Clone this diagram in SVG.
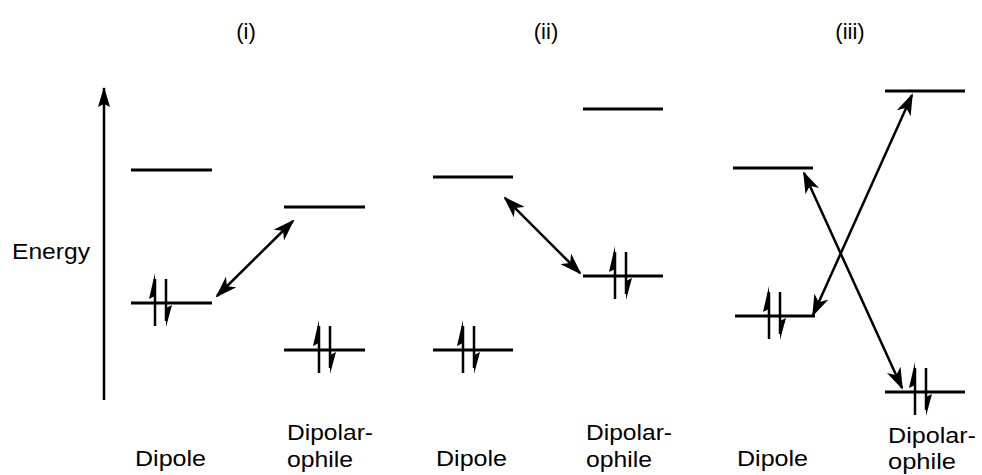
<svg xmlns="http://www.w3.org/2000/svg" width="982" height="475" viewBox="0 0 982 475">
<style>
  text{font-family:"Liberation Sans",Arial,Helvetica,sans-serif;fill:#000}
  .lbl{font-size:22px}
  .hdr{font-size:22px;text-anchor:middle}
  .lvl{stroke:#000;stroke-width:3;fill:none}
  .conn{stroke:#000;stroke-width:2.5;fill:none;marker-start:url(#ah);marker-end:url(#ah)}
  .el{stroke:#000;stroke-width:2.5;fill:none}
</style>
<defs>
  <marker id="ah" viewBox="0 0 22 15" refX="20" refY="7.5" markerWidth="22" markerHeight="15" markerUnits="userSpaceOnUse" orient="auto-start-reverse">
    <path d="M0,0 L22,7.5 L0,15 L6,7.5 z" fill="#000"/>
  </marker>
  <marker id="axh" viewBox="0 0 20 12" refX="19" refY="6" markerWidth="20" markerHeight="12" markerUnits="userSpaceOnUse" orient="auto">
    <path d="M0,0 L20,6 L0,12 L3,6 z" fill="#000"/>
  </marker>
  <g id="pair">
    <line class="el" x1="0" y1="-24" x2="0" y2="23"/>
    <polygon points="0,-30 -6,-4 0,-7" fill="#000"/>
    <line class="el" x1="11" y1="-24" x2="11" y2="18"/>
    <polygon points="11,24 17,2 11,5" fill="#000"/>
  </g>
</defs>
<rect width="982" height="475" fill="#fff"/>

<g id="axis">
  <line x1="104" y1="400" x2="104" y2="88" stroke="#000" stroke-width="2.5" marker-end="url(#axh)"/>
  <text class="lbl" x="90" y="259" text-anchor="end" textLength="78" lengthAdjust="spacingAndGlyphs">Energy</text>
</g>

<g id="headers">
  <text class="hdr" x="246" y="39">(i)</text>
  <text class="hdr" x="546" y="39">(ii)</text>
  <text class="hdr" x="850" y="39">(iii)</text>
</g>

<!-- (i) -->
<g id="i-dipole">
  <line class="lvl" x1="131" y1="170" x2="212" y2="170"/>
  <line class="lvl" x1="131" y1="303" x2="212" y2="303"/>
  <use href="#pair" x="155" y="303"/>
  <text class="lbl" x="135" y="466" textLength="71" lengthAdjust="spacingAndGlyphs">Dipole</text>
</g>
<g id="i-dipolarophile">
  <line class="lvl" x1="284" y1="207" x2="365" y2="207"/>
  <line class="lvl" x1="284" y1="350" x2="365" y2="350"/>
  <use href="#pair" x="319" y="350"/>
  <text class="lbl" x="287" y="440" textLength="86" lengthAdjust="spacingAndGlyphs">Dipolar-</text>
  <text class="lbl" x="287" y="467" textLength="66" lengthAdjust="spacingAndGlyphs">ophile</text>
</g>

<!-- (ii) -->
<g id="ii-dipole">
  <line class="lvl" x1="433" y1="177" x2="513" y2="177"/>
  <line class="lvl" x1="433" y1="350" x2="513" y2="350"/>
  <use href="#pair" x="463" y="350"/>
  <text class="lbl" x="436" y="466" textLength="71" lengthAdjust="spacingAndGlyphs">Dipole</text>
</g>
<g id="ii-dipolarophile">
  <line class="lvl" x1="583" y1="109" x2="663" y2="109"/>
  <line class="lvl" x1="583" y1="276" x2="663" y2="276"/>
  <use href="#pair" x="615" y="276"/>
  <text class="lbl" x="586" y="440" textLength="86" lengthAdjust="spacingAndGlyphs">Dipolar-</text>
  <text class="lbl" x="586" y="467" textLength="66" lengthAdjust="spacingAndGlyphs">ophile</text>
</g>

<!-- (iii) -->
<g id="iii-dipole">
  <line class="lvl" x1="733" y1="168" x2="813" y2="168"/>
  <line class="lvl" x1="735" y1="316" x2="815" y2="316"/>
  <use href="#pair" x="769" y="316"/>
  <text class="lbl" x="737" y="466" textLength="71" lengthAdjust="spacingAndGlyphs">Dipole</text>
</g>
<g id="iii-dipolarophile">
  <line class="lvl" x1="885" y1="91" x2="965" y2="91"/>
  <line class="lvl" x1="885" y1="392" x2="965" y2="392"/>
  <use href="#pair" x="915" y="392"/>
  <text class="lbl" x="888" y="443" textLength="88" lengthAdjust="spacingAndGlyphs">Dipolar-</text>
  <text class="lbl" x="888" y="469" textLength="68" lengthAdjust="spacingAndGlyphs">ophile</text>
</g>

<g id="connectors">
  <line class="conn" x1="217" y1="296" x2="293" y2="221"/>
  <line class="conn" x1="505" y1="198" x2="580" y2="273"/>
  <line class="conn" x1="813" y1="315" x2="912" y2="95"/>
  <line class="conn" x1="804" y1="173" x2="902" y2="388"/>
</g>
</svg>
